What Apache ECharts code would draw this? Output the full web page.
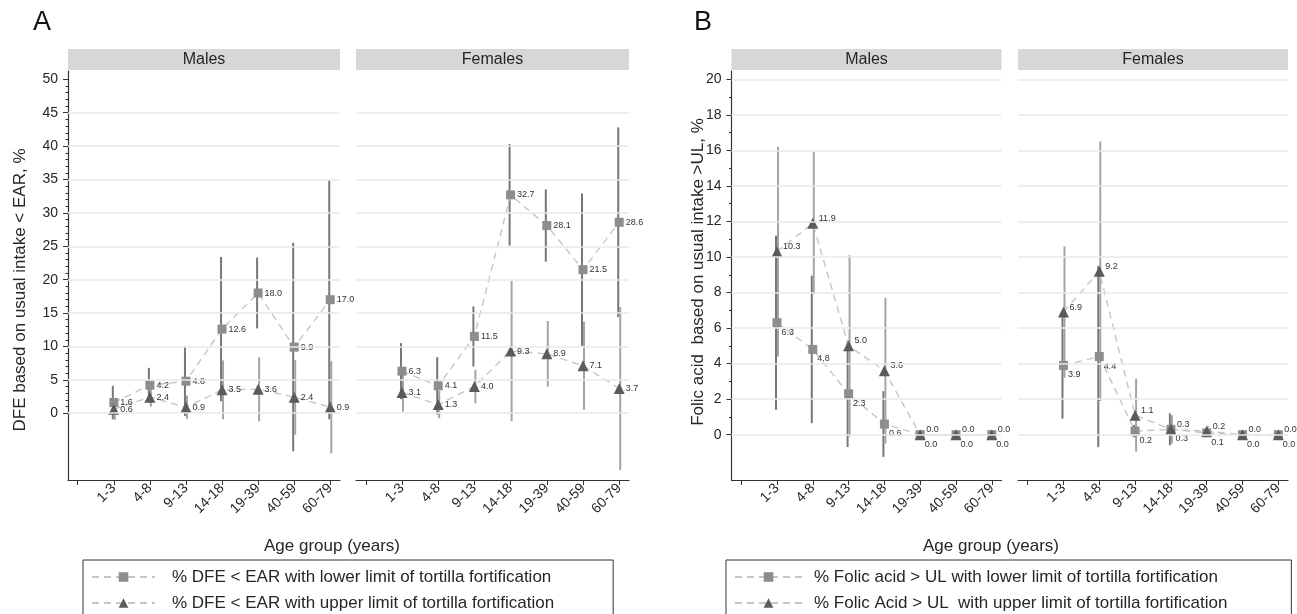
<!DOCTYPE html>
<html>
<head>
<meta charset="utf-8">
<script src="https://cdn.jsdelivr.net/npm/echarts@6/dist/echarts.min.js"></script>
<style>
  html, body { margin: 0; padding: 0; background: #fff; }
  #chart { width: 1297px; height: 614px; }
</style>
</head>
<body>
<div id="chart"></div>
<script>
const ageGroups = ['1-3', '4-8', '9-13', '14-18', '19-39', '40-59', '60-79'];
const facetNames = ['Males', 'Females'];

// Panel A: % DFE < EAR
const aMaleLower = [1.6, 4.2, 4.8, 12.6, 18.0, 9.9, 17.0];
const aMaleLowerLo = [-0.9, 1.6, -0.4, 1.8, 12.7, -5.7, -0.9];
const aMaleLowerHi = [4.1, 6.8, 10.0, 23.4, 23.3, 25.5, 34.9];
const aMaleUpper = [0.6, 2.4, 0.9, 3.5, 3.6, 2.4, 0.9];
const aMaleUpperLo = [-1.0, 1.0, -0.85, -0.9, -1.2, -3.2, -6.0];
const aMaleUpperHi = [2.2, 3.8, 2.65, 7.9, 8.4, 8.0, 7.8];
const aFemaleLower = [6.3, 4.1, 11.5, 32.7, 28.1, 21.5, 28.6];
const aFemaleLowerLo = [2.1, -0.2, 7.0, 25.1, 22.7, 10.1, 14.4];
const aFemaleLowerHi = [10.5, 8.4, 16.0, 40.3, 33.5, 32.9, 42.8];
const aFemaleUpper = [3.1, 1.3, 4.0, 9.3, 8.9, 7.1, 3.7];
const aFemaleUpperLo = [0.25, -0.75, 1.5, -1.2, 4.0, 0.5, -8.5];
const aFemaleUpperHi = [5.95, 3.35, 6.5, 19.8, 13.8, 13.7, 15.9];

// Panel B: % Folic acid > UL
const bMaleLower = [6.3, 4.8, 2.3, 0.6, 0.0, 0.0, 0.0];
const bMaleLowerLo = [1.4, 0.65, -0.7, -1.25, null, null, null];
const bMaleLowerHi = [11.2, 8.95, 5.3, 2.45, null, null, null];
const bMaleUpper = [10.3, 11.9, 5.0, 3.6, 0.0, 0.0, 0.0];
const bMaleUpperLo = [4.4, 7.9, -0.1, -0.5, null, null, null];
const bMaleUpperHi = [16.2, 15.9, 10.1, 7.7, null, null, null];
const bFemaleLower = [3.9, 4.4, 0.2, 0.3, 0.1, 0.0, 0.0];
const bFemaleLowerLo = [0.9, -0.7, -0.15, -0.6, -0.1, null, null];
const bFemaleLowerHi = [6.9, 9.5, 0.55, 1.2, 0.3, null, null];
const bFemaleUpper = [6.9, 9.2, 1.1, 0.3, 0.2, 0.0, 0.0];
const bFemaleUpperLo = [3.2, 1.9, -0.95, -0.5, -0.1, null, null];
const bFemaleUpperHi = [10.6, 16.5, 3.15, 1.1, 0.5, null, null];

// ticks
const aTicks = [0, 5, 10, 15, 20, 25, 30, 35, 40, 45, 50];
const aGridValues = [0, 5, 10, 15, 20, 25, 30, 35, 40, 45];
const aMinorTicks = [1, 2, 3, 4, 6, 7, 8, 9, 11, 12, 13, 14, 16, 17, 18, 19, 21, 22, 23, 24, 26, 27, 28, 29, 31, 32, 33, 34, 36, 37, 38, 39, 41, 42, 43, 44, 46, 47, 48, 49];
const bTicks = [0, 2, 4, 6, 8, 10, 12, 14, 16, 18, 20];
const bGridValues = [0, 2, 4, 6, 8, 10, 12, 14, 16, 18, 20];
const bMinorTicks = [1, 3, 5, 7, 9, 11, 13, 15, 17, 19];
const xTicks = [0, 1, 2, 3, 4, 5, 6, 7];
const xLabelPos = [1, 2, 3, 4, 5, 6, 7];

const aLegendLower = '% DFE < EAR with lower limit of tortilla fortification';
const aLegendUpper = '% DFE < EAR with upper limit of tortilla fortification';
const bLegendLower = '% Folic acid > UL with lower limit of tortilla fortification';
const bLegendUpper = '% Folic Acid > UL  with upper limit of tortilla fortification';

const FONT = '"Liberation Sans", Arial, Helvetica, sans-serif';
const TXT = '#262626';

// layout of the four facets
const facets = [
    { left: 68, width: 272, panel: 'A', name: facetNames[0], showY: true,
      lower: aMaleLower, lowerLo: aMaleLowerLo, lowerHi: aMaleLowerHi,
      upper: aMaleUpper, upperLo: aMaleUpperLo, upperHi: aMaleUpperHi },
    { left: 356, width: 273, panel: 'A', name: facetNames[1], showY: false,
      lower: aFemaleLower, lowerLo: aFemaleLowerLo, lowerHi: aFemaleLowerHi,
      upper: aFemaleUpper, upperLo: aFemaleUpperLo, upperHi: aFemaleUpperHi },
    { left: 731.5, width: 270, panel: 'B', name: facetNames[0], showY: true,
      lower: bMaleLower, lowerLo: bMaleLowerLo, lowerHi: bMaleLowerHi,
      upper: bMaleUpper, upperLo: bMaleUpperLo, upperHi: bMaleUpperHi },
    { left: 1018, width: 270, panel: 'B', name: facetNames[1], showY: false,
      lower: bFemaleLower, lowerLo: bFemaleLowerLo, lowerHi: bFemaleLowerHi,
      upper: bFemaleUpper, upperLo: bFemaleUpperLo, upperHi: bFemaleUpperHi }
];

const GRID_TOP = 71;
const GRID_H = 409;

const chart = echarts.init(document.getElementById('chart'));

const grids = [];
const xAxes = [];
const yAxes = [];
const series = [];
const graphics = [];

// vertical confidence-interval bar for every point
function ciSeries(idx, lo, hi, color, dx) {
    const data = [];
    lo.forEach(function(l, i) {
        if (l != null) data.push([i + 1, l, hi[i]]);
    });
    return {
        type: 'custom',
        xAxisIndex: idx,
        yAxisIndex: idx,
        z: 2,
        silent: true,
        data: data,
        encode: { x: 0, y: [1, 2] },
        renderItem: function(params, api) {
            const a = api.coord([api.value(0), api.value(1)]);
            const b = api.coord([api.value(0), api.value(2)]);
            return {
                type: 'line',
                shape: { x1: a[0] + dx, y1: a[1], x2: b[0] + dx, y2: b[1] },
                style: { stroke: color, lineWidth: 2 }
            };
        }
    };
}

function pointSeries(idx, name, values, symbol, size, color, label) {
    return {
        name: name,
        type: 'line',
        xAxisIndex: idx,
        yAxisIndex: idx,
        z: 4,
        silent: true,
        data: values.map(function(v, i) { return [i + 1, v]; }),
        symbol: symbol,
        symbolSize: size,
        showAllSymbol: true,
        itemStyle: { color: color },
        lineStyle: { color: '#c6c6c6', width: 1.4, type: [7, 5] },
        label: Object.assign({
            show: true,
            fontSize: 9,
            fontFamily: FONT,
            color: '#333',
            formatter: function(p) { return p.value[1].toFixed(1); }
        }, label)
    };
}

facets.forEach(function(f, i) {
    const isA = f.panel === 'A';
    grids.push({ left: f.left, top: GRID_TOP, width: f.width, height: GRID_H, containLabel: false });

    xAxes.push({
        type: 'value',
        gridIndex: i,
        min: -0.27,
        max: 7.27,
        axisLine: { show: true, onZero: false, lineStyle: { color: '#333', width: 1.2 } },
        axisTick: { show: true, length: 5, customValues: xTicks, lineStyle: { color: '#333' } },
        axisLabel: {
            customValues: xLabelPos,
            rotate: 45,
            fontSize: 14,
            fontFamily: FONT,
            color: TXT,
            margin: 6,
            formatter: function(v) { return ageGroups[Math.round(v) - 1] || ''; }
        },
        splitLine: { show: false }
    });

    const ticks = isA ? aTicks : bTicks;
    yAxes.push({
        type: 'value',
        gridIndex: i,
        position: 'left',
        min: isA ? -10 : -2.55,
        max: isA ? 51.25 : 20.47,
        axisLine: { show: f.showY, onZero: false, lineStyle: { color: '#333', width: 1.2 } },
        axisTick: { show: f.showY, length: 5, customValues: ticks, lineStyle: { color: '#333' } },
        axisLabel: {
            show: f.showY,
            customValues: ticks,
            fontSize: 14,
            fontFamily: FONT,
            color: TXT,
            margin: 10
        },
        splitLine: { show: false }
    });

    // gridlines
    series.push({
        type: 'line',
        xAxisIndex: i,
        yAxisIndex: i,
        data: [],
        z: 1,
        silent: true,
        markLine: {
            silent: true,
            symbol: 'none',
            label: { show: false },
            lineStyle: { color: '#e9e9e9', width: 1.6, type: 'solid' },
            data: (isA ? aGridValues : bGridValues).map(function(v) { return { yAxis: v }; })
        }
    });

    series.push(ciSeries(i, f.lowerLo, f.lowerHi, '#777777', -1));
    series.push(ciSeries(i, f.upperLo, f.upperHi, '#a4a4a4', 1));

    const lowerLabel = isA
        ? { position: 'right', distance: 2 }
        : { position: [9, 14], verticalAlign: 'middle', align: 'left' };
    const upperLabel = isA
        ? { position: 'right', distance: 1 }
        : { position: [11.5, 0.5], verticalAlign: 'middle', align: 'left' };

    series.push(pointSeries(i, isA ? aLegendLower : bLegendLower, f.lower, 'rect', 9, '#8d8d8d', lowerLabel));
    series.push(pointSeries(i, isA ? aLegendUpper : bLegendUpper, f.upper, 'triangle', 11, '#5b5b5b', upperLabel));

    // facet header strip
    graphics.push({
        type: 'rect',
        shape: { x: f.left, y: 49, width: f.width, height: 21 },
        style: { fill: '#d7d7d7' },
        silent: true
    });
    graphics.push({
        type: 'text',
        x: f.left + f.width / 2,
        y: 59.5,
        style: { text: f.name, fontSize: 16, fontFamily: FONT, fill: TXT, textAlign: 'center', textVerticalAlign: 'middle' },
        silent: true
    });
});

// minor ticks on the male y axes
[0, 2].forEach(function(gi) {
    const isA = gi === 0;
    yAxes.push({
        type: 'value',
        gridIndex: gi,
        position: 'left',
        offset: 0,
        min: isA ? -10 : -2.55,
        max: isA ? 51.25 : 20.47,
        axisLine: { show: false, onZero: false },
        axisTick: { show: true, length: 2.5, customValues: isA ? aMinorTicks : bMinorTicks, lineStyle: { color: '#333' } },
        axisLabel: { show: false },
        splitLine: { show: false }
    });
});

// panel letters and axis titles
graphics.push(
    { type: 'text', x: 33, y: 23, style: { text: 'A', fontSize: 27, fontFamily: FONT, fill: '#111', textVerticalAlign: 'middle' }, silent: true },
    { type: 'text', x: 694, y: 23, style: { text: 'B', fontSize: 27, fontFamily: FONT, fill: '#111', textVerticalAlign: 'middle' }, silent: true },
    { type: 'text', x: 20, y: 290, rotation: Math.PI / 2,
      style: { text: 'DFE based on usual intake < EAR, %', fontSize: 17, fontFamily: FONT, fill: TXT, textAlign: 'center', textVerticalAlign: 'middle' }, silent: true },
    { type: 'text', x: 698, y: 272, rotation: Math.PI / 2,
      style: { text: 'Folic acid  based on usual intake >UL, %', fontSize: 17, fontFamily: FONT, fill: TXT, textAlign: 'center', textVerticalAlign: 'middle' }, silent: true },
    { type: 'text', x: 332, y: 546,
      style: { text: 'Age group (years)', fontSize: 17, fontFamily: FONT, fill: TXT, textAlign: 'center', textVerticalAlign: 'middle' }, silent: true },
    { type: 'text', x: 991, y: 546,
      style: { text: 'Age group (years)', fontSize: 17, fontFamily: FONT, fill: TXT, textAlign: 'center', textVerticalAlign: 'middle' }, silent: true }
);

function legendFor(names, left, iconW, textGap, padRight) {
    return {
        data: names,
        orient: 'vertical',
        left: left,
        top: 560,
        height: 70,
        padding: [8.5, padRight, 8.5, 8],
        itemGap: 9,
        itemWidth: iconW,
        itemHeight: 12,
        borderColor: '#333',
        borderWidth: 1,
        selectedMode: false,
        textStyle: { fontSize: 17, fontFamily: FONT, color: TXT, padding: [0, 0, 0, textGap] }
    };
}

chart.setOption({
    animation: false,
    backgroundColor: '#fff',
    grid: grids,
    xAxis: xAxes,
    yAxis: yAxes,
    legend: [
        legendFor([aLegendLower, aLegendUpper], 83, 63, 12, 59),
        legendFor([bLegendLower, bLegendUpper], 726, 67, 7, 64)
    ],
    graphic: graphics,
    series: series
});

window.addEventListener('resize', function() {
    chart.resize();
});
</script>
</body>
</html>
